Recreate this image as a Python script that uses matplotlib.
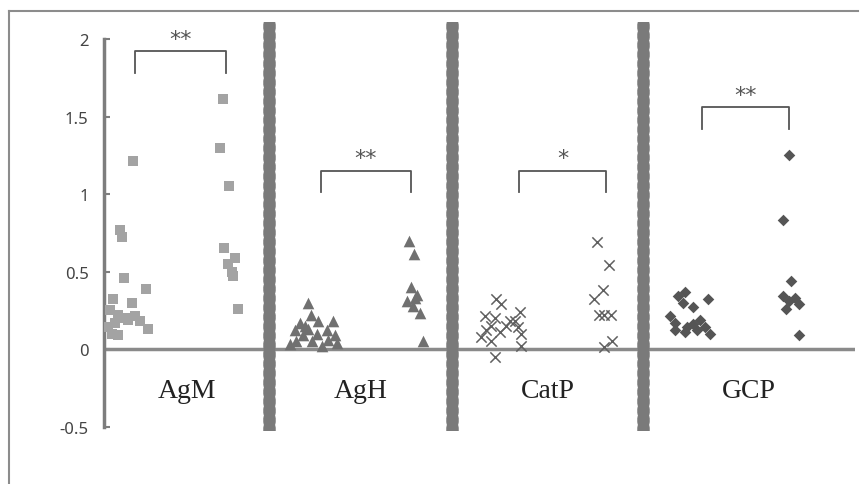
import matplotlib.pyplot as plt
from matplotlib.lines import Line2D

# categories and bracket marks
groups = ["AgM", "AgH", "CatP", "GCP"]
stars = ["**", "**", "*", "**"]
bracket_top = [1.92, 1.15, 1.15, 1.56]
bracket_low = [1.78, 1.01, 1.01, 1.42]

# values (left cluster / right column per group)
agm_left = [1.21, 0.77, 0.72, 0.46, 0.39, 0.32, 0.30, 0.25, 0.22, 0.20, 0.21, 0.18, 0.19, 0.17, 0.13, 0.10, 0.09, 0.14]
agm_left_x = [133, 120, 122, 124, 146, 113, 132, 110, 118, 125, 135, 140, 128, 115, 148, 112, 118, 108]
agm_right = [1.61, 1.30, 1.05, 0.65, 0.59, 0.55, 0.50, 0.47, 0.26]
agm_right_x = [223, 220, 229, 224, 235, 228, 232, 233, 238]

agh_left = [0.30, 0.22, 0.17, 0.18, 0.18, 0.12, 0.13, 0.12, 0.09, 0.10, 0.09, 0.05, 0.05, 0.06, 0.03, 0.02, 0.04, 0.15]
agh_left_x = [308, 311, 300, 318, 333, 295, 308, 327, 303, 317, 335, 296, 312, 328, 290, 322, 337, 305]
agh_right = [0.70, 0.61, 0.40, 0.35, 0.31, 0.28, 0.23, 0.33, 0.05]
agh_right_x = [409, 414, 411, 417, 407, 413, 420, 415, 423]

catp_left = [0.32, 0.29, 0.24, 0.21, 0.20, 0.18, 0.18, 0.15, 0.15, 0.14, 0.12, 0.11, 0.10, 0.08, 0.05, 0.02, -0.05]
catp_left_x = [496, 501, 520, 485, 495, 510, 515, 491, 506, 518, 486, 500, 521, 481, 491, 521, 495]
catp_right = [0.69, 0.54, 0.38, 0.32, 0.22, 0.22, 0.22, 0.05, 0.01]
catp_right_x = [597, 609, 603, 594, 599, 611, 604, 612, 604]

gcp_left = [0.34, 0.37, 0.32, 0.27, 0.30, 0.21, 0.19, 0.17, 0.16, 0.14, 0.14, 0.12, 0.12, 0.10, 0.11]
gcp_left_x = [678, 685, 708, 693, 683, 670, 700, 675, 693, 687, 705, 675, 697, 710, 685]
gcp_right = [1.25, 0.83, 0.44, 0.34, 0.33, 0.31, 0.29, 0.26, 0.09]
gcp_right_x = [789, 783, 791, 783, 795, 789, 799, 786, 799]

# bracket ends and dividers (horizontal axis positions)
bracket_l = [135, 321, 519, 702]
bracket_r = [226, 411, 606, 789]
dividers = [269, 452, 643]
x_min, x_max = 104, 855

fig = plt.figure(figsize=(8.62, 4.85), dpi=100)
ax = fig.add_axes([x_min / 862, 53 / 485, (x_max - x_min) / 862, 409 / 485])
ax.set_xlim(x_min, x_max)
ax.set_ylim(-0.529, 2.11)

# outer frame
fig.add_artist(Line2D([9 / 862, 9 / 862], [0, 1 - 12 / 485], color="#8c8c8c", lw=1.5))
fig.add_artist(Line2D([9 / 862, 858 / 862], [1 - 12 / 485, 1 - 12 / 485], color="#8c8c8c", lw=1.5))

for s in ["top", "right", "bottom"]:
    ax.spines[s].set_visible(False)
ax.spines["left"].set_bounds(-0.5, 2)
ax.spines["left"].set_color("#7d7d7d")
ax.spines["left"].set_linewidth(2.5)
ax.set_yticks([-0.5, 0, 0.5, 1, 1.5, 2])
ax.set_yticklabels(["-0.5", "0", "0.5", "1", "1.5", "2"])
ax.tick_params(axis="y", direction="in", length=4, width=1.5, color="#7d7d7d",
               labelsize=12, labelcolor="#444444", pad=11)
for lab in ax.get_yticklabels():
    lab.set_family("Noto Sans")
ax.set_xticks([])

ax.axhline(0, color="#8a8a8a", lw=2.5, zorder=2)
for d in dividers:
    ax.axvline(d, color="#7a7a7a", lw=9, linestyle=(0, (0.3, 0.45)),
               dash_capstyle="round", zorder=3)

ax.scatter(agm_left_x, agm_left, marker="s", s=62, color="#a3a3a3", zorder=4, linewidths=0)
ax.scatter(agm_right_x, agm_right, marker="s", s=62, color="#a3a3a3", zorder=4, linewidths=0)
ax.scatter(agh_left_x, agh_left, marker="^", s=70, color="#707070", zorder=4, linewidths=0)
ax.scatter(agh_right_x, agh_right, marker="^", s=70, color="#707070", zorder=4, linewidths=0)
ax.scatter(catp_left_x, catp_left, marker="x", s=55, color="#606060", zorder=4, linewidths=1.1)
ax.scatter(catp_right_x, catp_right, marker="x", s=55, color="#606060", zorder=4, linewidths=1.1)
ax.scatter(gcp_left_x, gcp_left, marker="D", s=35, color="#555555", zorder=4, linewidths=0)
ax.scatter(gcp_right_x, gcp_right, marker="D", s=35, color="#555555", zorder=4, linewidths=0)

# brackets with stars
for i in range(len(groups)):
    ax.plot([bracket_l[i], bracket_l[i], bracket_r[i], bracket_r[i]],
            [bracket_low[i], bracket_top[i], bracket_top[i], bracket_low[i]],
            color="#555555", lw=1.3)
    ax.text((bracket_l[i] + bracket_r[i]) / 2, bracket_top[i] + 0.015, stars[i],
            ha="center", va="bottom", fontsize=16, color="#555555")

# category names centred between dividers
edges = [x_min] + dividers + [x_max]
for i, g in enumerate(groups):
    ax.text((edges[i] + edges[i + 1]) / 2, -0.27, g, ha="center", va="center",
            fontsize=20, family="Liberation Serif", color="#222222")

fig.savefig("out.png", dpi=100)
